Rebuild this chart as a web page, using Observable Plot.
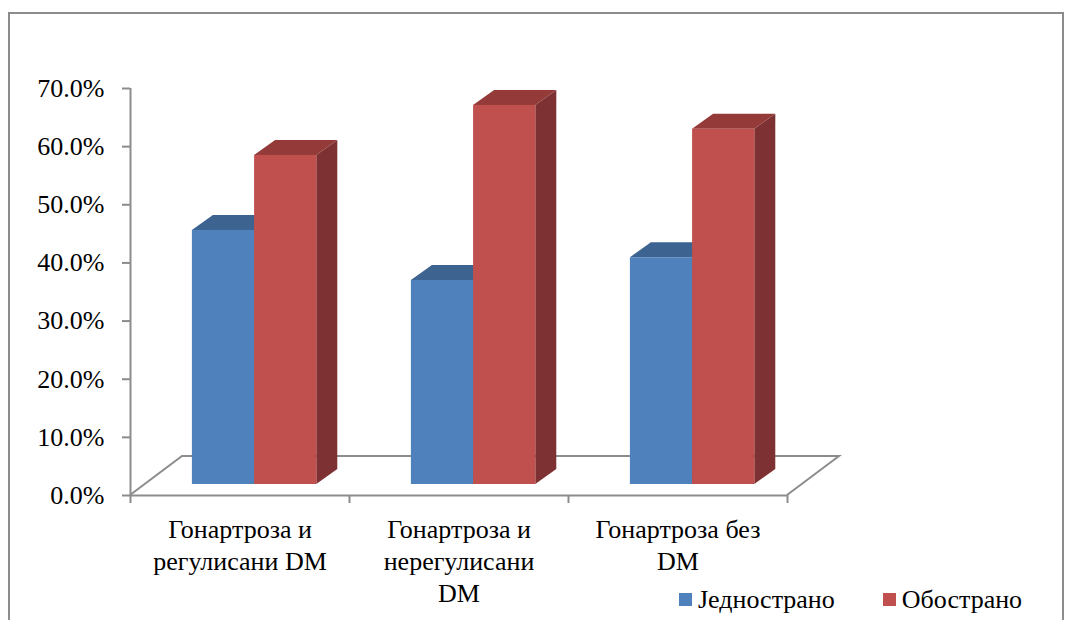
<!DOCTYPE html>
<html>
<head>
<meta charset="utf-8">
<script src="https://cdn.jsdelivr.net/npm/d3@7"></script>
<script src="https://cdn.jsdelivr.net/npm/@observablehq/plot@0.6"></script>
<style>
  html, body { margin: 0; padding: 0; background: #fff; }
  #chart { position: relative; width: 1066px; height: 620px; overflow: hidden;
           font-family: "Liberation Serif", "Times New Roman", serif; }
  #frame { position: absolute; left: 8px; top: 12px; width: 1056px; height: 700px;
           border: 2px solid #8c8c8c; box-sizing: border-box; }
  #plot { position: absolute; left: 0; top: 0; }
  #legend { position: absolute; left: 679px; top: 583px; width: 430px; white-space: nowrap; }
  #legend .lg-swatches { flex-wrap: nowrap; }
  #legend .lg-swatch { margin-right: 48px; }
  #legend .lg-swatch > svg { margin-right: 6px; }
</style>
</head>
<body>
<div id="chart">
  <div id="frame"></div>
  <div id="plot"></div>
  <div id="legend"></div>
</div>
<script>
// Categories and series values (shares of patients)
const categories = ["Гонартроза и\nрегулисани DM", "Гонартроза и\nнерегулисани\nDM", "Гонартроза без\nDM"];
const seriesNames = ["Једнострано", "Обострано"];
const unilateral = [0.437, 0.351, 0.390];
const bilateral = [0.566, 0.652, 0.611];
const yTicks = [0, 0.1, 0.2, 0.3, 0.4, 0.5, 0.6, 0.7];

// Face colours of the 3D columns
const faceColors = {
  "Једнострано": {front: "#4f81bd", top: "#3d6391", side: "#345a87"},
  "Обострано": {front: "#c0504d", top: "#943b39", side: "#7e3132"}
};
const gray = "#8c8c8c";
const serif = '"Liberation Serif", "Times New Roman", serif';

// Pseudo-3D geometry (pixels) and column placement within a category (x units)
const FLOOR = {x: 52, y: -39};   // depth of the floor
const FRONT = {x: 17, y: -11};   // shift of the column fronts behind the floor's front edge
const DEPTH = {x: 21, y: -15};   // depth of a column
const barStart = 0.205, barWidth = 0.284;

const values = [unilateral, bilateral];
const rows = categories.flatMap((c, i) => seriesNames.map((s, j) => ({
  i, s, v: values[j][i],
  x1: i + barStart + j * barWidth,
  x2: i + barStart + (j + 1) * barWidth
})));

// Floor outline (back and side edges)
function floor(index, {x, y}) {
  const x0 = x(0), x3 = x(categories.length), y0 = y(0);
  return d3.create("svg:path")
    .attr("d", `M${x0},${y0}L${x0 + FLOOR.x},${y0 + FLOOR.y}L${x3 + FLOOR.x},${y0 + FLOOR.y}L${x3},${y0}`)
    .attr("fill", "none").attr("stroke", gray).attr("stroke-width", 2)
    .node();
}

// Top and right-side faces of each column
function columnFaces(index, {x, y}) {
  const g = d3.create("svg:g");
  for (const r of rows) {
    const xa = x(r.x1) + FRONT.x, xb = x(r.x2) + FRONT.x;
    const yb = y(0) + FRONT.y, yt = y(r.v) + FRONT.y;
    const c = faceColors[r.s];
    g.append("path")
      .attr("d", `M${xb},${yt}L${xb + DEPTH.x},${yt + DEPTH.y}L${xb + DEPTH.x},${yb + DEPTH.y}L${xb},${yb}Z`)
      .attr("fill", c.side);
    g.append("path")
      .attr("d", `M${xa},${yt}L${xa + DEPTH.x},${yt + DEPTH.y}L${xb + DEPTH.x},${yt + DEPTH.y}L${xb},${yt}Z`)
      .attr("fill", c.top);
  }
  return g.node();
}

const plot = Plot.plot({
  width: 1066,
  height: 620,
  marginLeft: 130,
  marginRight: 279,
  marginTop: 88,
  marginBottom: 125,
  style: {fontFamily: serif, fontSize: "26px", color: "black", background: "transparent"},
  x: {domain: [0, categories.length], axis: null},
  y: {domain: [0, 0.7], axis: null},
  color: {domain: seriesNames, range: seriesNames.map(s => faceColors[s].front)},
  marks: [
    floor,
    Plot.ruleY([0], {x1: 0, x2: categories.length, stroke: gray, strokeWidth: 2}),
    Plot.ruleX([0], {y1: 0, y2: 0.7, stroke: gray, strokeWidth: 2}),
    Plot.axisY(yTicks, {tickFormat: d3.format(".1%"), tickSize: 8, tickPadding: 18, stroke: gray, strokeWidth: 2, fill: "black", fontSize: 26, label: null}),
    Plot.axisX(d3.range(categories.length + 1), {tickFormat: () => "", tickSize: 8, stroke: gray, strokeWidth: 2, label: null}),
    columnFaces,
    Plot.rect(rows, {x1: "x1", x2: "x2", y1: 0, y2: "v", fill: "s", dx: FRONT.x, dy: FRONT.y}),
    Plot.text(categories, {x: (d, i) => i + 0.5, y: () => 0, text: d => d, lineAnchor: "top", dy: 20, lineHeight: 1.23, fontSize: 26, fill: "black"})
  ]
});
document.getElementById("plot").append(plot);

const legend = plot.legend("color", {
  className: "lg",
  swatchSize: 13,
  style: {fontFamily: serif, fontSize: "26px", color: "black"}
});
document.getElementById("legend").append(legend);
</script>
</body>
</html>
